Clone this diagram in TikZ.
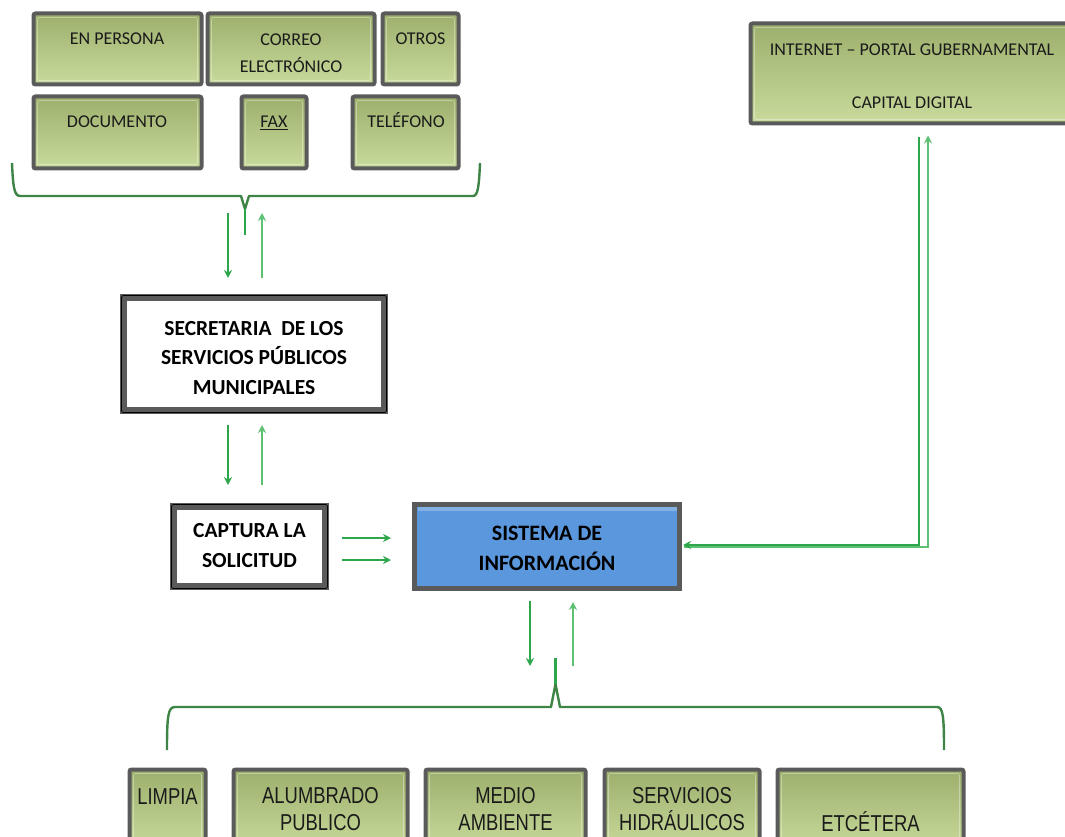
\documentclass[tikz,border=0pt]{standalone}
\usepackage{fontspec}
\setmainfont{Carlito}
\newfontfamily\narrowf[FakeStretch=0.8]{Liberation Sans}
\usetikzlibrary{arrows.meta,calc}
\definecolor{boxgray}{HTML}{5A5A5A}
\definecolor{gTop}{HTML}{9CAF6C}
\definecolor{gBot}{HTML}{C9DB9C}
\definecolor{sblue}{HTML}{5B97DC}
\definecolor{sblueD}{HTML}{3F72B0}
\definecolor{arrG}{HTML}{2EA64C}
\definecolor{arrL}{HTML}{5EC072}
\definecolor{brG}{HTML}{3E8446}
\definecolor{txt}{HTML}{1A1A1A}
\newcommand\boxat[6]{\node[#1, minimum width={(#5-#3-3)*1pt}, minimum height={(#6-#4-3)*1pt}] (#2) at ({(#3+#5)/2},{(#4+#6)/2}) {};}
\tikzset{
  gbox/.style={draw=boxgray, line width=4pt, rounded corners=2pt, top color=gTop, bottom color=gBot, inner sep=0pt,
    path picture={\draw[white, opacity=0.35, line width=0.8pt] ([shift={(4pt,-4pt)}]path picture bounding box.north west) rectangle ([shift={(-4pt,4pt)}]path picture bounding box.south east);}},
  wbox/.style={draw=boxgray, line width=7pt, fill=white, inner sep=0pt},
  bbox/.style={draw=boxgray, line width=5pt, fill=sblue, inner sep=0pt,
    path picture={\draw[sblueD, line width=3pt] (path picture bounding box.north west) rectangle (path picture bounding box.south east);
      \fill[white, opacity=0.25] ([shift={(3pt,-2pt)}]path picture bounding box.north west) rectangle ([shift={(-3pt,-6pt)}]path picture bounding box.north east);}},
  lbl/.style={inner sep=0pt, text=txt, font=\fontsize{18}{27}\selectfont, align=center},
  blbl/.style={inner sep=0pt, text=black, font=\bfseries\fontsize{21.5}{29.5}\selectfont, align=center},
  nlbl/.style={inner sep=0pt, text=txt, font=\narrowf\fontsize{23}{27}\selectfont, align=center},
  arr/.style={draw=arrG, line width=2.4pt, -{Stealth[length=8pt,width=8pt]}},
  arrl/.style={draw=arrL, line width=2.4pt, -{Stealth[length=8pt,width=8pt]}},
  brace/.style={draw=brG, line width=2.4pt, line join=round},
  spike/.style={draw=arrG, line width=2.4pt}
}
\begin{document}
\begin{tikzpicture}[x=1pt,y=-1pt]
\useasboundingbox (0,0) rectangle (1065,837);
\clip (0,0) rectangle (1065,837);
% top channel boxes
\boxat{gbox}{enp}{32}{12}{203}{86}
\boxat{gbox}{cor}{206}{12}{376}{86}
\boxat{gbox}{otr}{381}{12}{460}{86}
\boxat{gbox}{doc}{32}{95}{203}{170}
\boxat{gbox}{fax}{240}{95}{308}{170}
\boxat{gbox}{tel}{351}{95}{460}{170}
\node[lbl, anchor=base] (enpT) at (117,45) {EN PERSONA};
\node[lbl, anchor=north] (corT) at (291,33.4) {CORREO\\ELECTRÓNICO};
\node[lbl, anchor=base] (otrT) at (420.5,45) {OTROS};
\node[lbl, anchor=base] (docT) at (117,128) {DOCUMENTO};
\node[lbl, anchor=base] (faxT) at (274,128) {\underline{FAX}};
\node[lbl, anchor=base] (telT) at (406,128) {TELÉFONO};
% internet box
\boxat{gbox}{inet}{749}{22}{1075}{125}
\node[lbl, anchor=north, font=\fontsize{18}{53}\selectfont] (inetT) at (912,43.4) {INTERNET – PORTAL GUBERNAMENTAL\\CAPITAL DIGITAL};
% secretaria
\boxat{wbox}{sec}{122}{296}{386}{412}
\draw[black, line width=0.8pt, rounded corners=2pt] ([shift={(1.5pt,-1.5pt)}]sec.north west) rectangle ([shift={(-1.5pt,1.5pt)}]sec.south east);
\node[blbl, anchor=north] (secT) at (254,321) {SECRETARIA \ DE LOS\\SERVICIOS PÚBLICOS\\MUNICIPALES};
% captura
\boxat{wbox}{cap}{172}{505}{327}{588}
\draw[black, line width=0.8pt, rounded corners=2pt] ([shift={(1.5pt,-1.5pt)}]cap.north west) rectangle ([shift={(-1.5pt,1.5pt)}]cap.south east);
\node[blbl, anchor=north, font=\bfseries\fontsize{21.5}{30}\selectfont] (capT) at (249.5,523) {CAPTURA LA\\SOLICITUD};
% sistema
\boxat{bbox}{sis}{413}{503}{681}{590}
\node[blbl, anchor=north, font=\bfseries\fontsize{22}{30}\selectfont] (sisT) at (547,526) {SISTEMA DE\\INFORMACIÓN};
% bottom boxes
\boxat{gbox}{lim}{128}{768}{207}{852}
\boxat{gbox}{alu}{232}{768}{409}{852}
\boxat{gbox}{med}{424}{768}{587}{852}
\boxat{gbox}{ser}{603}{768}{761}{852}
\boxat{gbox}{etc}{776}{768}{965}{852}
\node[nlbl, anchor=base] (limT) at (167.5,804) {LIMPIA};
\node[nlbl, anchor=north] (aluT) at (320.5,787.5) {ALUMBRADO\\PUBLICO};
\node[nlbl, anchor=north] (medT) at (505.5,787.5) {MEDIO\\AMBIENTE};
\node[nlbl, anchor=north] (serT) at (682,787.5) {SERVICIOS\\HIDRÁULICOS};
\node[nlbl, anchor=base] (etcT) at (870.5,831) {ETCÉTERA};
% top brace
\coordinate (tbtip) at (245,209);
\draw[brace] (12,163) .. controls (13,186) and (14,196) .. (20,196) -- (241,196) -- (tbtip) -- (249,196) -- (473,196) .. controls (478,196) and (479,186) .. (480,163);
\draw[spike] (tbtip) -- (245,235);
% arrows brace <-> secretaria
\draw[arr] ([xshift=-26pt,yshift=81pt]sec.north) -- ([xshift=-26pt,yshift=16pt]sec.north);
\draw[arrl] ([xshift=8pt,yshift=16pt]sec.north) -- ([xshift=8pt,yshift=81pt]sec.north);
% secretaria <-> captura
\draw[arr] ([xshift=-26pt,yshift=-11pt]sec.south) -- ([xshift=-21.5pt,yshift=18pt]cap.north);
\draw[arrl] ([xshift=12.5pt,yshift=18pt]cap.north) -- ([xshift=8pt,yshift=-11pt]sec.south);
% captura -> sistema
\draw[arr] ([xshift=13pt,yshift=8.5pt]cap.east) -- ([xshift=-21pt,yshift=8.5pt]sis.west);
\draw[arr] ([xshift=13pt,yshift=-13.5pt]cap.east) -- ([xshift=-21pt,yshift=-13.5pt]sis.west);
% sistema <-> internet
\draw[arrl, line width=2pt] ([xshift=2pt,yshift=-0.5pt]sis.east) -| ([xshift=16pt,yshift=-10pt]inet.south);
\draw[arr, line width=2pt] ([xshift=7pt,yshift=-12pt]inet.south) |- ([xshift=1pt,yshift=1.5pt]sis.east);
% sistema <-> lower brace
\draw[arr] ([xshift=-17pt,yshift=-10pt]sis.south) -- ([xshift=-17pt,yshift=-75pt]sis.south);
\draw[arrl] ([xshift=26pt,yshift=-75pt]sis.south) -- ([xshift=26pt,yshift=-11pt]sis.south);
% lower brace
\coordinate (lbtip) at (555.5,684);
\draw[brace] (167,750) .. controls (167,716) and (168,707) .. (175,707) -- (551,707) -- (lbtip) -- (560,707) -- (937,707) .. controls (943,707) and (944,716) .. (944,750);
\draw[spike] (lbtip) -- (555.5,658);
\end{tikzpicture}
\end{document}
